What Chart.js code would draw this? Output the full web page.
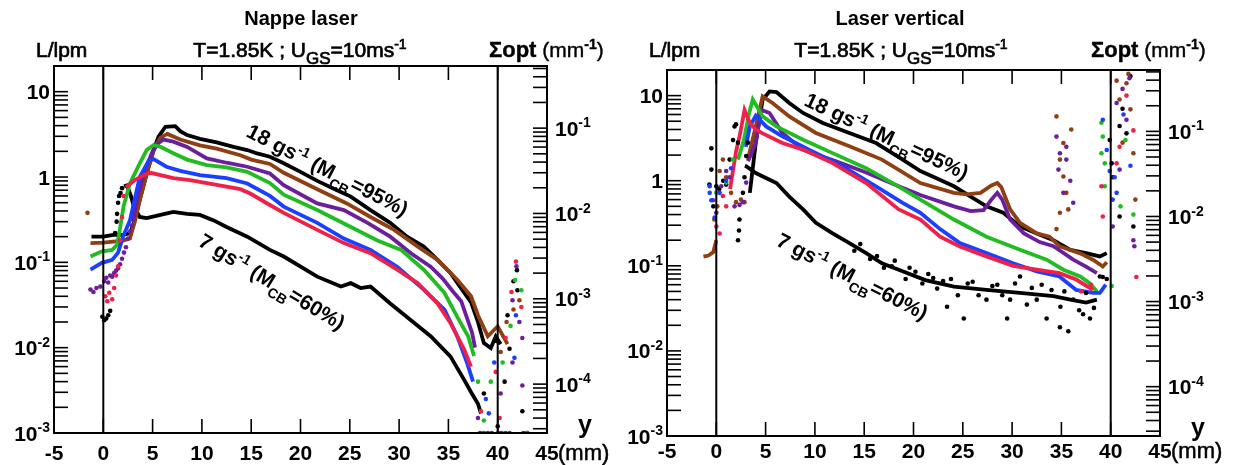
<!DOCTYPE html>
<html>
<head>
<meta charset="utf-8">
<script src="https://cdn.jsdelivr.net/npm/chart.js@4.4.0/dist/chart.umd.min.js"></script>
<style>
  body { margin: 0; background: #fff; width: 1233px; height: 465px; overflow: hidden; position: relative; }
  canvas { position: absolute; top: 0; }
</style>
</head>
<body>
<canvas id="nappe" width="616" height="465" style="left:0;width:616px;height:465px"></canvas>
<canvas id="vertical" width="620" height="465" style="left:613px;width:620px;height:465px"></canvas>
<script>
// ---- axes / tick labels ----
const xTickValues = [-5, 0, 5, 10, 15, 20, 25, 30, 35, 40, 45];
const xTickLabels = ['-5', '0', '5', '10', '15', '20', '25', '30', '35', '40', '45'];
const lplDecades = [-3, -2, -1, 0, 1];      // L/lpm labels
const sigmaDecades = [-4, -3, -2, -1];      // Σopt labels
const refLines = [0, 40];

// ---- Nappe laser (left) : [y (mm), L/lpm] ----
const nappeBlack18 = [[-1.2,0.20],[0,0.20],[1,0.21],[2,0.21],[2.7,0.22],[3.1,0.29],[3.7,0.54],[4.4,1.1],[5.1,2.07],[5.6,2.97],[6.3,3.88],[7.3,3.95],[7.8,3.45],[8.5,3.1],[9.8,2.8],[11.5,2.55],[13.2,2.26],[14.6,2.07],[15.6,1.89],[16.9,1.73],[18.3,1.45],[20.0,1.15],[21.7,0.9],[23.7,0.70],[25.1,0.59],[27.1,0.41],[29.1,0.29],[30.8,0.20],[32.5,0.153],[33.9,0.107],[35.2,0.075],[36.6,0.044],[37.3,0.034],[38.0,0.020],[38.6,0.0113],[39.3,0.0099],[39.8,0.0135],[40.3,0.011]];
const nappeBrown = [[-1.3,0.168],[0,0.17],[1,0.175],[2,0.18],[2.7,0.19],[3.2,0.3],[3.8,0.6],[4.5,1.2],[5.2,2.2],[5.8,2.9],[6.5,3.2],[7.8,2.75],[9.8,2.35],[11.5,2.15],[13.9,1.8],[15.0,1.6],[16.9,1.42],[18.3,1.12],[21.7,0.72],[24.7,0.49],[27.1,0.34],[29.5,0.24],[31.9,0.153],[33.9,0.107],[35.9,0.0625],[37.3,0.04],[38.0,0.024],[39.0,0.0136],[39.6,0.016],[40.0,0.0178],[40.7,0.0127],[41.0,0.011]];
const nappePurple = [[3.0,0.30],[3.5,0.6],[4.2,1.2],[5.0,2.0],[5.6,2.5],[6.1,2.75],[7.1,2.6],[8.5,2.25],[10.5,1.65],[12.5,1.47],[14.6,1.32],[16.9,1.10],[18.3,0.8],[21.7,0.49],[24.4,0.41],[26.8,0.29],[29.1,0.20],[31.2,0.128],[33.2,0.089],[34.4,0.065],[35.5,0.045],[36.3,0.035],[36.9,0.022],[37.4,0.015],[37.7,0.010]];
const nappeGreen = [[-1.3,0.117],[-0.2,0.134],[0.9,0.14],[1.4,0.16],[1.7,0.25],[2.05,0.45],[2.7,0.84],[3.7,1.45],[4.4,2.07],[5.1,2.37],[5.8,2.26],[7.1,1.9],[8.5,1.6],[10.5,1.38],[12.5,1.3],[14.6,1.15],[16.9,0.85],[18.3,0.62],[21.7,0.41],[25.1,0.26],[27.8,0.18],[30.2,0.14],[32.5,0.082],[34.6,0.044],[35.9,0.023],[37.0,0.0136],[37.6,0.008]];
const nappeBlue = [[-1.3,0.082],[-0.2,0.098],[0.9,0.107],[1.5,0.13],[2.0,0.2],[2.7,0.31],[3.7,1.0],[4.6,1.55],[5.1,1.62],[6.4,1.32],[7.8,1.18],[9.8,1.05],[12.5,0.97],[14.6,0.84],[16.9,0.6],[18.3,0.45],[21.7,0.29],[24.4,0.19],[27.1,0.14],[29.8,0.089],[32.5,0.048],[34.6,0.028],[35.9,0.0136],[36.9,0.0066],[37.5,0.004]];
const nappeRed = [[2.3,0.76],[3.2,0.92],[4.1,1.05],[4.8,1.12],[5.8,1.05],[7.1,0.97],[8.8,0.92],[11.5,0.81],[13.9,0.72],[14.9,0.64],[16.9,0.47],[18.3,0.38],[21.7,0.24],[24.4,0.168],[27.1,0.128],[29.8,0.082],[31.9,0.057],[33.9,0.033],[35.2,0.0195],[36.6,0.0095],[37.3,0.006]];
const nappeBlack7 = [[2.1,0.78],[2.4,0.8],[2.8,0.6],[3.1,0.45],[3.7,0.34],[4.4,0.33],[5.8,0.36],[7.1,0.39],[8.5,0.37],[9.8,0.36],[11.2,0.31],[12.5,0.26],[14.6,0.20],[16.9,0.14],[18.3,0.117],[21.7,0.068],[24.1,0.052],[25.1,0.057],[26.1,0.050],[27.1,0.052],[29.1,0.033],[31.2,0.021],[33.2,0.0136],[35.2,0.0079],[36.6,0.0042],[37.3,0.003],[38.0,0.0022],[38.3,0.0017]];
// scattered points
const nappeBlackDots = [[-0.1,0.023],[0.1,0.021],[0.3,0.022],[0.5,0.024],[0.7,0.027],[1.2,0.22],[1.35,0.3],[1.4,0.37],[1.5,0.5],[1.6,0.6],[1.75,0.65],[1.9,0.74],[38.6,0.0029],[40.0,0.0012],[40.7,0.004],[41.0,0.024],[41.2,0.0097],[41.95,0.081],[42.0,0.047],[42.5,0.0018],[39.9,0.012],[41.6,0.06]];
const nappeBrownDots = [[-1.6,0.38],[40.3,0.0089],[40.9,0.02],[41.6,0.028],[42.2,0.036]];
const nappePurpleDots = [[-1.3,0.048],[-1.0,0.045],[-0.7,0.05],[-0.3,0.052],[0.1,0.06],[0.3,0.066],[0.5,0.058],[0.7,0.07],[0.9,0.068],[1.1,0.075],[1.3,0.08],[1.5,0.085],[1.7,0.095],[1.9,0.11],[2.1,0.13],[2.3,0.15],[2.5,0.19],[2.7,0.23],[2.9,0.27],[40.3,0.0029],[41.5,0.036],[41.5,0.0067],[42.2,0.020],[42.5,0.013],[42.5,0.0036],[38.2,0.001],[38.6,0.001],[39.0,0.001],[39.4,0.001],[40.4,0.001],[40.8,0.001],[41.2,0.001],[42.6,0.001],[43.0,0.001],[38.0,0.0015],[41.9,0.09]];
const nappeGreenDots = [[38.6,0.0014],[39.3,0.004],[40.5,0.0067],[41.3,0.018],[41.75,0.062],[42.4,0.047],[40.0,0.001],[38.0,0.004]];
const nappeBlueDots = [[39.1,0.0017],[39.65,0.0067],[41.7,0.0076],[41.85,0.024],[38.8,0.0025],[40.3,0.001]];
const nappeRedDots = [[0.2,0.040],[0.4,0.035],[0.6,0.044],[0.9,0.037],[1.1,0.05],[1.3,0.07],[1.5,0.09],[1.7,0.18],[1.9,0.34],[2.05,0.6],[38.3,0.0018],[39.8,0.0052],[40.2,0.0015],[40.8,0.013],[41.85,0.102],[42.4,0.030],[38.5,0.001],[42.9,0.001],[41.4,0.045]];

// ---- Laser vertical (right) ----
const vertBlack18 = [[3.4,0.72],[4.0,2.77],[4.7,9.0],[5.4,11.2],[6.1,11.0],[7.4,8.2],[8.8,6.25],[10.8,4.77],[13.5,3.64],[16.2,2.77],[18.9,1.77],[20.7,1.3],[22.5,1.05],[24.1,0.86],[25.8,0.65],[27.4,0.50],[29.1,0.42],[30.8,0.29],[32.5,0.24],[34.2,0.20],[35.9,0.154],[37.5,0.141],[38.9,0.129],[39.6,0.141]];
const vertBrownStart = [[-1.3,0.128],[-0.8,0.132],[-0.3,0.145],[0.0,0.2]];
const vertBrown = [[3.2,1.77],[4.0,4.35],[4.7,9.8],[5.7,8.2],[7.4,5.7],[10.1,3.64],[13.5,2.54],[16.8,1.77],[20.7,0.94],[24.1,0.72],[25.4,0.69],[26.8,0.72],[27.9,0.88],[28.5,0.94],[28.9,0.84],[29.8,0.46],[30.8,0.32],[32.5,0.24],[33.8,0.22],[34.8,0.17],[36.9,0.14],[38.2,0.118],[39.2,0.098],[39.6,0.11]];
const vertPurple = [[3.2,1.7],[3.5,2.0],[4.0,2.77],[4.55,6.8],[5.4,6.25],[6.7,3.64],[8.8,2.3],[11.8,1.75],[15.2,1.25],[18.5,0.86],[20.7,0.68],[24.1,0.50],[25.8,0.44],[27.1,0.45],[27.9,0.60],[28.5,0.72],[29.0,0.60],[29.8,0.35],[31.2,0.24],[32.8,0.19],[34.2,0.17],[36.2,0.118],[37.5,0.098],[38.6,0.082]];
const vertGreen = [[2.2,1.77],[2.8,3.0],[3.3,6.0],[3.7,9.0],[4.7,5.7],[6.1,4.35],[8.8,3.03],[11.8,2.11],[15.2,1.4],[18.5,0.85],[20.7,0.60],[24.1,0.35],[27.4,0.22],[30.8,0.154],[33.5,0.118],[35.2,0.090],[36.9,0.075],[37.9,0.062],[38.6,0.05]];
const vertBlue = [[3.0,2.5],[3.4,4.35],[4.0,5.8],[5.05,4.35],[6.7,3.33],[9.4,2.32],[12.8,1.48],[16.2,0.86],[18.9,0.55],[20.7,0.42],[22.7,0.27],[24.7,0.185],[27.4,0.141],[30.1,0.107],[32.5,0.086],[34.8,0.075],[36.5,0.052],[38.2,0.048],[38.9,0.048],[39.5,0.06]];
const vertRed = [[1.4,0.8],[2.0,2.2],[2.4,3.5],[2.86,6.8],[3.4,4.77],[4.0,4.0],[4.7,3.6],[6.7,2.77],[8.8,2.32],[11.8,1.61],[15.2,0.94],[18.5,0.46],[20.7,0.35],[22.7,0.22],[24.7,0.169],[27.4,0.129],[30.1,0.10],[32.5,0.09],[34.8,0.082],[36.5,0.069],[38.2,0.052]];
const vertBlack7 = [[2.9,1.5],[3.03,1.48],[4.0,1.23],[6.1,0.94],[7.4,0.65],[8.8,0.46],[10.1,0.32],[11.8,0.24],[13.5,0.185],[15.2,0.141],[16.8,0.107],[18.5,0.090],[21.2,0.068],[24.1,0.057],[27.4,0.052],[30.8,0.048],[34.2,0.044],[35.9,0.040],[37.5,0.037],[38.6,0.04]];
const vertBlackDots = [[-0.5,2.4],[-0.5,1.35],[0,0.86],[-0.3,0.5],[0.7,1.0],[1.35,1.77],[1.7,3.0],[1.85,4.35],[2.0,4.6],[2.2,2.8],[2.35,0.35],[2.2,0.2],[2.3,0.26],[2.7,0.72],[2.86,1.1],[3.03,1.95],[3.2,2.8],[0.3,0.8],[1.0,0.9],[-0.7,0.9],
  [14.0,0.15],[14.6,0.18],[15.6,0.12],[16.3,0.13],[17.0,0.095],[17.8,0.099],[18.1,0.115],[19.2,0.07],[19.6,0.095],[20.2,0.085],[20.9,0.062],[21.5,0.08],[22.0,0.072],[22.4,0.054],[23.0,0.066],[23.4,0.033],[23.8,0.07],[24.5,0.045],[25.1,0.024],[25.5,0.062],[26.0,0.065],[26.6,0.045],[27.4,0.040],[28.0,0.058],[28.5,0.06],[29.0,0.045],[29.5,0.024],[29.8,0.04],[30.3,0.062],[30.8,0.075],[31.5,0.035],[32.0,0.055],[32.5,0.040],[33.0,0.06],[33.5,0.024],[34.0,0.052],[34.85,0.019],[34.9,0.033],[35.3,0.05],[35.7,0.017],[36.2,0.040],[36.8,0.03],[37.2,0.027],[37.5,0.048],[37.9,0.024],[38.3,0.032],[38.9,0.075],
  [39.9,3.0],[40.1,1.6],[40.2,1.1],[40.9,4.4],[41.2,7.0],[41.6,3.6],[40.9,0.38],[42.0,17],[42.3,0.29],[39.6,0.07],[39.2,0.074]];
const vertBrownDots = [[0.34,1.3],[0.67,1.77],[1.0,1.1],[1.5,0.72],[2.0,0.56],[2.5,0.6],[2.86,0.56],[0.1,0.5],[-0.2,0.35],[34.5,5.7],[36.0,4.0],[34.85,1.77],[35.2,1.12],[35.5,0.72],[34.85,0.42],[35.7,0.46],[35.2,2.77],[34.5,0.27],[40.6,15],[40.9,9],[41.6,14],[42.0,6.9],[41.2,2.8],[42.3,2.1],[42.5,0.6],[41.8,18]];
const vertPurpleDots = [[-0.34,0.59],[0,0.42],[0.5,0.86],[1.0,1.3],[1.35,1.1],[1.85,0.5],[2.36,0.52],[2.7,0.56],[3.03,0.95],[34.5,3.3],[34.85,2.1],[35.5,1.77],[35.2,0.72],[35.9,1.0],[36.2,0.55],[34.7,1.35],[35.5,2.5],[40.6,8.2],[41.2,12],[41.6,5.2],[40.9,1.35],[42.3,0.2],[42.4,0.17],[40.2,0.29],[41.9,16]];
const vertGreenDots = [[0,0.72],[1.0,0.95],[1.68,1.77],[39.06,4.8],[39.2,3.3],[39.06,2.1],[39.4,1.6],[39.4,0.86],[40.1,0.058],[41.0,0.5],[41.5,3],[42.3,0.4]];
const vertBlueDots = [[-0.67,0.86],[-0.5,0.59],[-0.17,0.37],[0.34,0.72],[1.0,1.0],[1.5,1.4],[-0.67,0.72],[39.2,5.2],[39.6,2.3],[39.9,1.3],[40.4,1.1],[40.6,0.72],[40.2,0.6],[41.3,6],[42.0,1.5]];
const vertRedDots = [[0,0.29],[0.34,0.24],[0.67,0.66],[1.0,0.5],[39.06,0.86],[39.2,0.38],[40.6,1.6],[40.9,2.5],[42.3,3.9],[42.6,0.074],[41.6,10],[38.0,0.06],[37.0,0.05]];

const C = { black: '#000000', brown: '#8f3f12', purple: '#6c1f9c', green: '#22bb22', blue: '#1a40ff', red: '#f0204a' };
const FONT = '"Liberation Sans", Arial, Helvetica, sans-serif';

const pts = arr => arr.map(([x, y]) => ({ x, y }));
const lineSet = (arr, color) => ({ data: pts(arr), showLine: true, borderColor: color, borderWidth: 3.8, pointRadius: 0, tension: 0 });
const dotSet = (arr, color) => ({ data: pts(arr), showLine: false, pointRadius: 2.3, pointBorderWidth: 0, backgroundColor: color, pointBackgroundColor: color });

// text with sup / sub parts: [text, mode(0 normal, 1 sup, -1 sub), weight?, size?]
// emb: add a thin outline so regular text reads a little heavier
function rich(ctx, x, y, parts, align, size, weight, emb) {
  const small = Math.round(size * 0.68);
  const fontOf = p => `${p[2] || weight} ${p[3] || (p[1] ? small : size)}px ${FONT}`;
  let w = 0;
  const ws = parts.map(p => { ctx.font = fontOf(p); const m = ctx.measureText(p[0]).width; w += m; return m; });
  let cx = align === 'center' ? x - w / 2 : align === 'right' ? x - w : x;
  parts.forEach((p, i) => {
    ctx.font = fontOf(p);
    const dy = p[1] === 1 ? -size * 0.4 : p[1] === -1 ? size * 0.34 : 0;
    ctx.fillText(p[0], cx, y + dy);
    if (emb) { ctx.lineWidth = emb; ctx.strokeText(p[0], cx, y + dy); }
    cx += ws[i];
  });
}

function decadeLabel(e) {
  if (e === 0) return [['1', 0]];
  if (e === 1) return [['10', 0]];
  return [['10', 0], [String(e), 1]];
}

function logTickValues(min, max) {
  const out = [];
  for (let e = Math.floor(Math.log10(min)); e <= Math.ceil(Math.log10(max)); e++) {
    for (let k = 1; k < 10; k++) {
      const v = k * Math.pow(10, e);
      if (v >= min * 0.999 && v <= max * 1.001) out.push(v);
    }
  }
  return out;
}

const framePlugin = {
  id: 'frame',
  afterDatasetsDraw(chart) {
    const o = chart.options.plugins.frame;
    const { ctx, chartArea: a, scales: { x, y, y2 } } = chart;
    const seg = (x1, y1, x2, y2_) => { ctx.beginPath(); ctx.moveTo(x1, y1); ctx.lineTo(x2, y2_); ctx.stroke(); };
    ctx.save();
    ctx.strokeStyle = '#000';
    ctx.fillStyle = '#000';
    // reference lines at y=0 and y=40 mm
    ctx.lineWidth = 2;
    refLines.forEach(v => { const px = x.getPixelForValue(v); seg(px, a.top, px, a.bottom); });
    // ticks
    const tl = 14;
    ctx.lineWidth = 1.6;
    xTickValues.forEach(v => {
      const px = x.getPixelForValue(v);
      seg(px, a.top, px, a.top + tl);
      seg(px, a.bottom, px, a.bottom - tl);
    });
    logTickValues(y.min, y.max).forEach(v => { const py = y.getPixelForValue(v); seg(a.left, py, a.left + tl, py); });
    logTickValues(y2.min, y2.max).forEach(v => { const py = y2.getPixelForValue(v); seg(a.right, py, a.right - tl, py); });
    // frame
    ctx.lineWidth = 2;
    ctx.strokeRect(a.left, a.top, a.right - a.left, a.bottom - a.top);

    // tick labels
    ctx.textBaseline = 'alphabetic';
    xTickValues.forEach((v, i) => rich(ctx, x.getPixelForValue(v), o.xLabelY, [[xTickLabels[i], 0]], 'center', 21, 'bold'));
    lplDecades.forEach(e => rich(ctx, a.left - 4, y.getPixelForValue(Math.pow(10, e)) + 7.5, decadeLabel(e), 'right', 21, 'bold'));
    sigmaDecades.forEach(e => rich(ctx, a.right + 8, y2.getPixelForValue(Math.pow(10, e)) + 7.5, decadeLabel(e), 'left', 21, 'bold'));

    // axis titles
    rich(ctx, a.right + 38, a.bottom, [['y', 0, 'bold', 25]], 'center', 21, 'bold');
    rich(ctx, a.right + 11, o.xLabelY, [['(mm)', 0]], 'left', 22, 'normal', 0.5);
    rich(ctx, o.titleX, 25, [[o.title, 0]], 'center', 20, 'bold');
    rich(ctx, o.lpmX, 57, [['L/lpm', 0]], 'left', 21, 'normal', 0.7);
    rich(ctx, o.tX, 57, [['T=1.85K ; U', 0], ['GS', -1, 'normal', 17], ['=10ms', 0], ['-1', 1, 'normal', 14]], 'center', 21, 'normal', 0.7);
    rich(ctx, o.sigmaX, 57, [['Σopt', 0, 'bold', 22], [' (mm', 0, 'normal', 21], ['-1', 1, 'bold', 14], [')', 0, 'normal', 21]], 'left', 21, 'normal', 0.4);

    // rotated annotations
    o.notes.forEach(n => {
      ctx.save();
      ctx.translate(n.x, n.y);
      ctx.rotate(n.angle * Math.PI / 180);
      rich(ctx, 0, 0, [[n.flow + ' gs', 0], ['-1', 1, 'bold', 14], [' (M', 0], ['CB', -1, 'bold', 14], ['=' + n.mcb + '%)', 0]], 'left', 21, 'bold');
      ctx.restore();
    });
    ctx.restore();
  }
};

function makePanel(id, cfg) {
  const datasets = [
    ...cfg.dots.map(([arr, col]) => dotSet(arr, col)),
    ...cfg.lines.map(([arr, col]) => lineSet(arr, col))
  ];
  return new Chart(document.getElementById(id), {
    type: 'scatter',
    data: { datasets },
    options: {
      responsive: false,
      animation: false,
      events: [],
      layout: { padding: cfg.padding },
      plugins: {
        legend: { display: false },
        tooltip: { enabled: false },
        frame: cfg.frame
      },
      scales: {
        x: { type: 'linear', min: -5, max: 45, display: false },
        y: { type: 'logarithmic', min: 1e-3, max: 20, display: false },
        y2: { type: 'logarithmic', position: 'right', min: 1e-3 / cfg.sigmaRatio, max: 20 / cfg.sigmaRatio, display: false }
      }
    },
    plugins: [framePlugin]
  });
}

makePanel('nappe', {
  padding: { left: 54, right: 69, top: 66, bottom: 32 },
  sigmaRatio: 37.4,
  dots: [[nappeRedDots, C.red], [nappeBlueDots, C.blue], [nappeGreenDots, C.green], [nappePurpleDots, C.purple], [nappeBrownDots, C.brown], [nappeBlackDots, C.black]],
  lines: [[nappeRed, C.red], [nappeBlue, C.blue], [nappeGreen, C.green], [nappePurple, C.purple], [nappeBrown, C.brown], [nappeBlack7, C.black], [nappeBlack18, C.black]],
  frame: {
    title: 'Nappe laser', titleX: 301, lpmX: 36, tX: 300, sigmaX: 489, xLabelY: 460,
    notes: [{ flow: '18', mcb: 95, x: 245, y: 136, angle: 27 }, { flow: '7', mcb: 60, x: 197, y: 245, angle: 31 }]
  }
});

makePanel('vertical', {
  padding: { left: 54, right: 73, top: 70, bottom: 29 },
  sigmaRatio: 38,
  dots: [[vertRedDots, C.red], [vertBlueDots, C.blue], [vertGreenDots, C.green], [vertPurpleDots, C.purple], [vertBrownDots, C.brown], [vertBlackDots, C.black]],
  lines: [[vertRed, C.red], [vertBlue, C.blue], [vertGreen, C.green], [vertPurple, C.purple], [vertBrownStart, C.brown], [vertBrown, C.brown], [vertBlack7, C.black], [vertBlack18, C.black]],
  frame: {
    title: 'Laser vertical', titleX: 287, lpmX: 36, tX: 288, sigmaX: 478, xLabelY: 458,
    notes: [{ flow: '18', mcb: 95, x: 190, y: 105, angle: 25 }, { flow: '7', mcb: 60, x: 162, y: 245, angle: 27 }]
  }
});
</script>
</body>
</html>
